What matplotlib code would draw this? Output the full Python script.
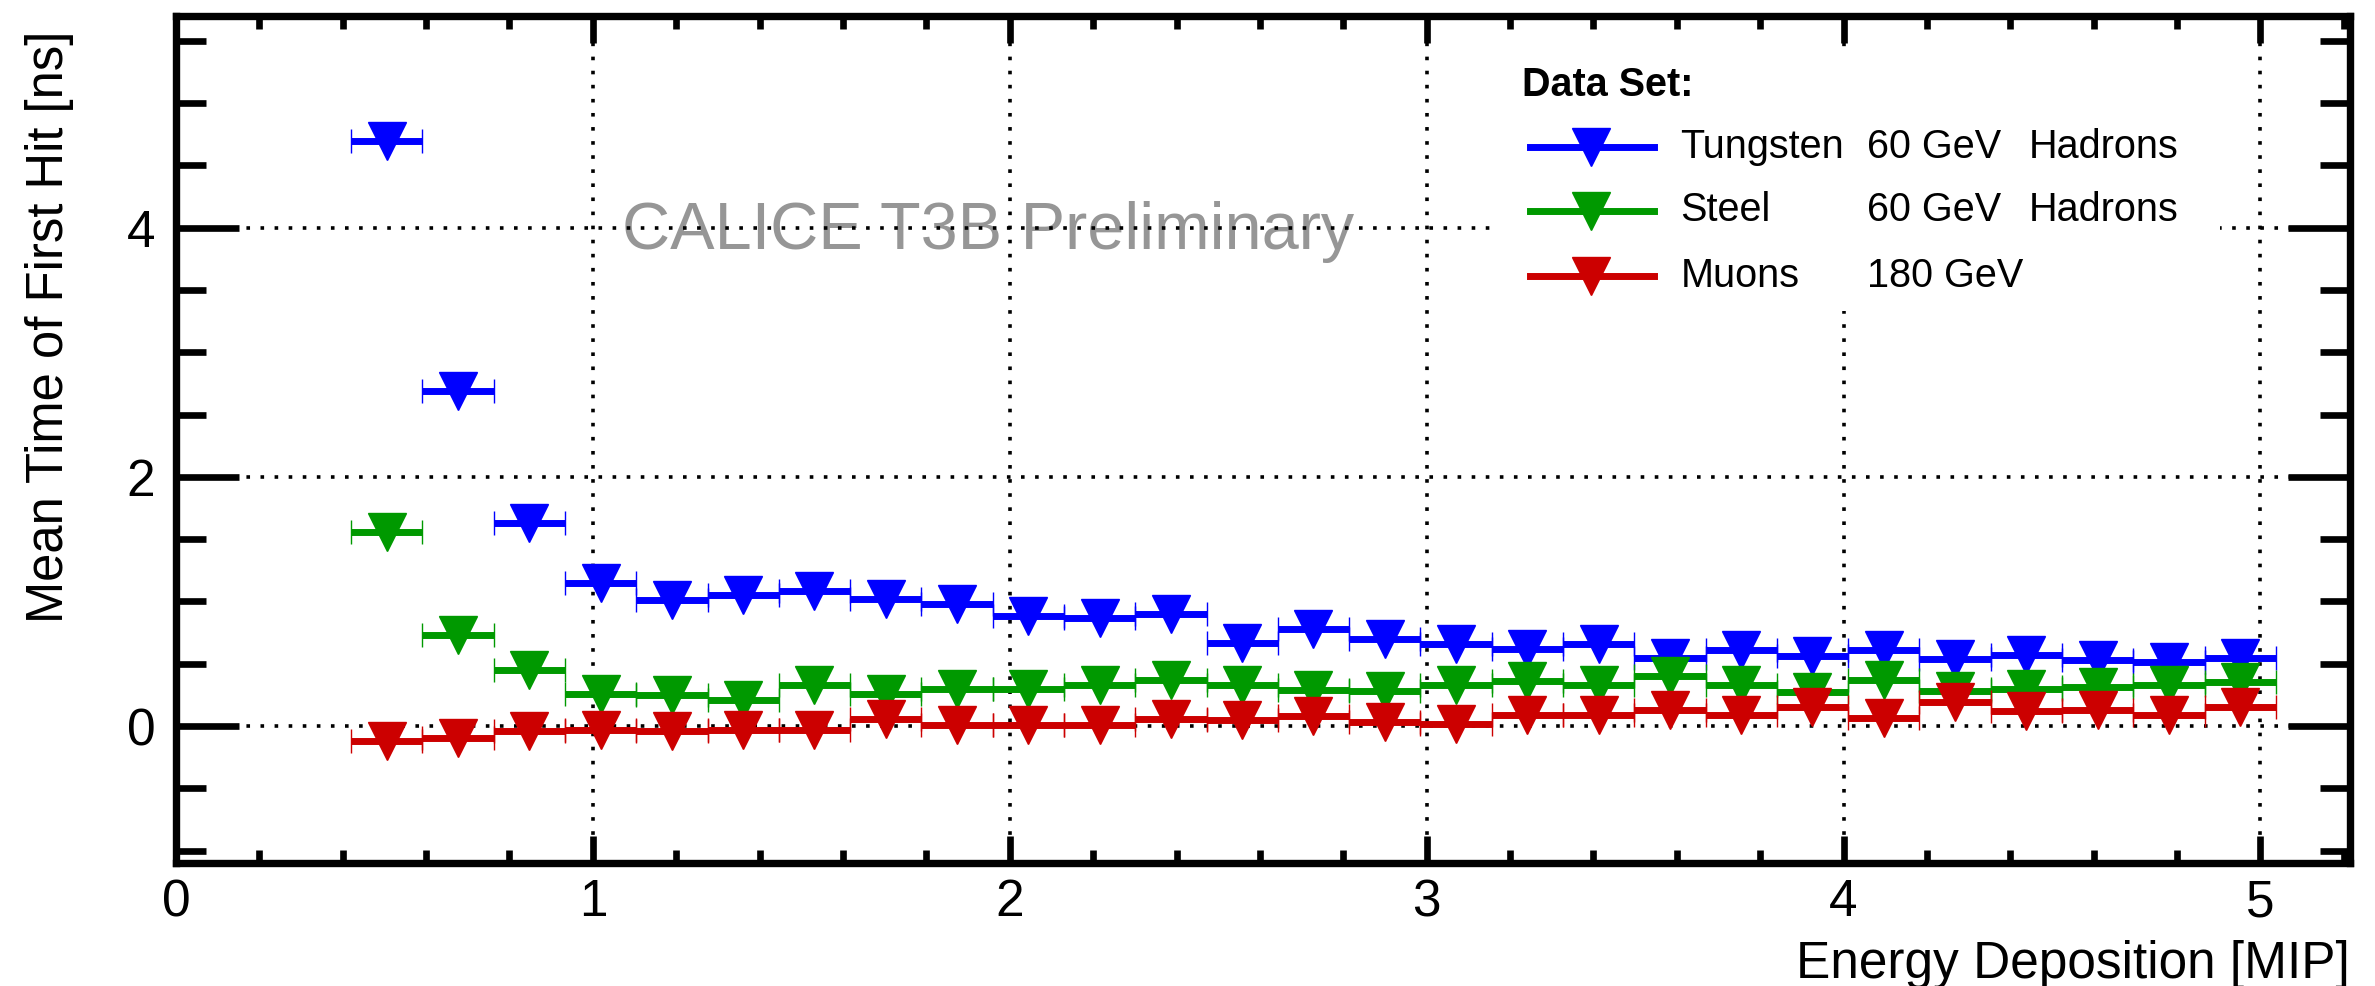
import numpy as np
import matplotlib
matplotlib.use("Agg")
import matplotlib.pyplot as plt
from matplotlib.ticker import MultipleLocator
from matplotlib.patches import Rectangle

plt.rcParams["font.family"] = ["Liberation Sans", "DejaVu Sans"]

# bin edges in MIP (27 bins)
bin_edges = [0.420, 0.591, 0.762, 0.933, 1.104, 1.275, 1.446, 1.617, 1.788,
             1.959, 2.130, 2.301, 2.472, 2.643, 2.814, 2.985, 3.156, 3.327,
             3.498, 3.669, 3.840, 4.011, 4.182, 4.353, 4.524, 4.695, 4.866,
             5.037]

# mean time of first hit [ns]
tungsten = [4.70, 2.69, 1.63, 1.15, 1.01, 1.05, 1.08, 1.02, 0.98, 0.88,
            0.87, 0.90, 0.67, 0.78, 0.70, 0.66, 0.62, 0.66, 0.55, 0.61,
            0.56, 0.61, 0.54, 0.57, 0.53, 0.51, 0.55]
steel = [1.56, 0.73, 0.45, 0.26, 0.25, 0.21, 0.33, 0.26, 0.30, 0.295,
         0.33, 0.37, 0.33, 0.29, 0.28, 0.33, 0.36, 0.33, 0.40, 0.33,
         0.27, 0.37, 0.28, 0.30, 0.31, 0.33, 0.35]
muons = [-0.12, -0.10, -0.04, -0.03, -0.04, -0.03, -0.03, 0.06, 0.01, 0.01,
         0.01, 0.06, 0.045, 0.08, 0.03, 0.02, 0.086, 0.09, 0.13, 0.09,
         0.15, 0.064, 0.19, 0.12, 0.13, 0.086, 0.15]

series_names = ["Tungsten", "Steel", "Muons"]
series_energy = ["60 GeV", "60 GeV", "180 GeV"]
series_particle = ["Hadrons", "Hadrons", ""]
series_colors = ["#0000ff", "#009900", "#cc0000"]

edges = np.array(bin_edges)
centers = 0.5 * (edges[:-1] + edges[1:])
half_w = 0.5 * np.diff(edges)

fig = plt.figure(figsize=(23.75, 9.86), dpi=100)
ax = fig.add_axes([0.0741, 0.1247, 0.9154, 0.8591])

mk = dict(marker="v", ms=28, mew=1, linestyle="none", elinewidth=5,
          capsize=8.3, capthick=4.8, zorder=3)
for vals, col in zip([tungsten, steel, muons], series_colors):
    ax.errorbar(centers, vals, xerr=half_w, color=col, mfc=col, mec=col, **mk)

ax.set_xlim(0, 5.215)
ax.set_ylim(-1.1, 5.7)
ax.xaxis.set_major_locator(MultipleLocator(1))
ax.xaxis.set_minor_locator(MultipleLocator(0.2))
ax.yaxis.set_major_locator(MultipleLocator(2))
ax.yaxis.set_minor_locator(MultipleLocator(0.5))

for s in ax.spines.values():
    s.set_linewidth(5.3)

ax.tick_params(axis="x", which="both", direction="in", top=True, width=4.8,
               labelsize=37, pad=11)
ax.tick_params(axis="x", which="major", length=19.5)
ax.tick_params(axis="x", which="minor", length=9.5)
ax.tick_params(axis="y", which="both", direction="in", right=True, width=4.8,
               labelsize=37, pad=15)
ax.tick_params(axis="y", which="major", length=45)
ax.tick_params(axis="y", which="minor", length=21.5)

ax.grid(which="major", color="black", linestyle=(0, (1, 2.9)), linewidth=2.6)

ax.set_xlabel("Energy Deposition [MIP]", fontsize=37, loc="right")
ax.xaxis.label.set_va("baseline")
ax.xaxis.set_label_coords(1.0, -0.136)
ax.set_ylabel("Mean Time of First Hit [ns]", fontsize=36.5, loc="top")
ax.yaxis.set_label_coords(-0.047, 0.983)

ax.text(1.07, 3.83, "CALICE T3B Preliminary", fontsize=48, color="#969696",
        va="baseline", ha="left", zorder=1)

# legend, drawn by hand to keep the ROOT column layout
ax.add_patch(Rectangle((0.606, 0.652), 0.334, 0.31, transform=ax.transAxes,
                       facecolor="white", edgecolor="none", zorder=2.5))
ax.text(0.619, 0.906, "Data Set:", transform=ax.transAxes, fontsize=28.5,
        fontweight="bold", va="baseline", ha="left", zorder=3)
row_y = [0.845, 0.770, 0.693]
for yy, name, en, part, col in zip(row_y, series_names, series_energy,
                                   series_particle, series_colors):
    ax.plot([0.623, 0.680], [yy, yy], transform=ax.transAxes, color=col,
            lw=5, zorder=3, clip_on=False)
    ax.plot([0.651], [yy], transform=ax.transAxes, marker="v", ms=28,
            color=col, zorder=3, clip_on=False)
    ax.text(0.692, yy - 0.0125, name, transform=ax.transAxes, fontsize=28.5,
            va="baseline", zorder=3)
    ax.text(0.778, yy - 0.0125, en, transform=ax.transAxes, fontsize=28.5,
            va="baseline", zorder=3)
    ax.text(0.852, yy - 0.0125, part, transform=ax.transAxes, fontsize=28.5,
            va="baseline", zorder=3)

fig.savefig("out.png", dpi=100)
